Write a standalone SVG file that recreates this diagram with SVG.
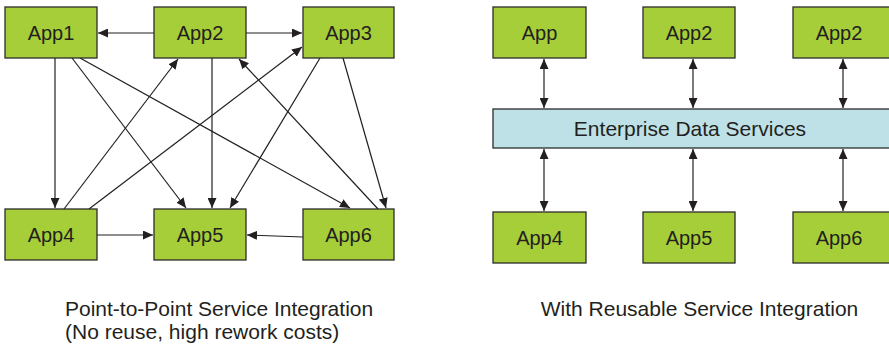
<svg xmlns="http://www.w3.org/2000/svg" width="889" height="345" viewBox="0 0 889 345">
<style>
.box{fill:#a6ce39;stroke:#2b2b2b;stroke-width:1.3}
.bar{fill:#bde1e6;stroke:#2b2b2b;stroke-width:1.3}
.lbl{font-family:"Liberation Sans",Arial,sans-serif;font-size:20px;fill:#231f20;text-anchor:middle}
.cap{font-family:"Liberation Sans",Arial,sans-serif;font-size:21px;fill:#231f20}
.ln{stroke:#231f20;stroke-width:1.2;fill:none;marker-end:url(#ah)}
.dl{stroke:#231f20;stroke-width:1.2;fill:none;marker-end:url(#ah);marker-start:url(#ah)}
</style>
<defs>
<marker id="ah" markerUnits="userSpaceOnUse" markerWidth="11" markerHeight="9" refX="10" refY="4.5" orient="auto-start-reverse" viewBox="0 0 11 9">
<path d="M0,0 L10,4.5 L0,9 z" fill="#231f20"/>
</marker>
</defs>
<rect width="889" height="345" fill="#ffffff"/>
<g id="connectors">
<line class="ln" x1="154" y1="33" x2="98" y2="33"/>
<line class="ln" x1="246" y1="33" x2="302" y2="33"/>
<line class="ln" x1="55" y1="58" x2="55" y2="208"/>
<line class="ln" x1="72" y1="58" x2="186" y2="208"/>
<line class="ln" x1="80" y1="58" x2="350" y2="208"/>
<line class="ln" x1="64" y1="209" x2="178" y2="59"/>
<line class="ln" x1="89" y1="209" x2="302" y2="47"/>
<line class="ln" x1="212" y1="58" x2="212" y2="208"/>
<line class="ln" x1="320" y1="58" x2="230" y2="208"/>
<line class="ln" x1="378" y1="209" x2="239" y2="59"/>
<line class="ln" x1="343" y1="58" x2="386" y2="208"/>
<line class="ln" x1="97" y1="235" x2="153" y2="235"/>
<line class="ln" x1="303" y1="237" x2="247" y2="235"/>
<line class="dl" x1="544" y1="59" x2="544" y2="108"/>
<line class="dl" x1="693" y1="59" x2="693" y2="108"/>
<line class="dl" x1="843" y1="59" x2="843" y2="108"/>
<line class="dl" x1="544" y1="149" x2="544" y2="211"/>
<line class="dl" x1="693" y1="149" x2="693" y2="211"/>
<line class="dl" x1="843" y1="149" x2="843" y2="211"/>
</g>
<g id="app1"><rect class="box" x="5" y="7" width="92" height="51"/><text class="lbl" x="51" y="40">App1</text></g>
<g id="app2"><rect class="box" x="154" y="7" width="92" height="51"/><text class="lbl" x="200" y="40">App2</text></g>
<g id="app3"><rect class="box" x="303" y="7" width="91" height="51"/><text class="lbl" x="348.5" y="40">App3</text></g>
<g id="app4"><rect class="box" x="5" y="209" width="92" height="51"/><text class="lbl" x="51" y="242">App4</text></g>
<g id="app5"><rect class="box" x="154" y="209" width="92" height="51"/><text class="lbl" x="200" y="242">App5</text></g>
<g id="app6"><rect class="box" x="303" y="209" width="91" height="51"/><text class="lbl" x="348.5" y="242">App6</text></g>
<g id="r-app"><rect class="box" x="493" y="7" width="93" height="51"/><text class="lbl" x="539.5" y="40">App</text></g>
<g id="r-app2a"><rect class="box" x="643" y="7" width="92" height="51"/><text class="lbl" x="689" y="40">App2</text></g>
<g id="r-app2b"><rect class="box" x="793" y="7" width="100" height="51"/><text class="lbl" x="839" y="40">App2</text></g>
<g id="eds"><rect class="bar" x="493" y="109" width="400" height="39"/><text class="lbl" x="690" y="136" style="font-size:21px">Enterprise Data Services</text></g>
<g id="r-app4"><rect class="box" x="493" y="212" width="93" height="51"/><text class="lbl" x="539.5" y="245">App4</text></g>
<g id="r-app5"><rect class="box" x="643" y="212" width="92" height="51"/><text class="lbl" x="689" y="245">App5</text></g>
<g id="r-app6"><rect class="box" x="793" y="212" width="100" height="51"/><text class="lbl" x="839" y="245">App6</text></g>
<g id="captions">
<text class="cap" x="65" y="316">Point-to-Point Service Integration</text>
<text class="cap" x="65" y="339">(No reuse, high rework costs)</text>
<text class="cap" x="699.5" y="316" text-anchor="middle">With Reusable Service Integration</text>
</g>
</svg>
